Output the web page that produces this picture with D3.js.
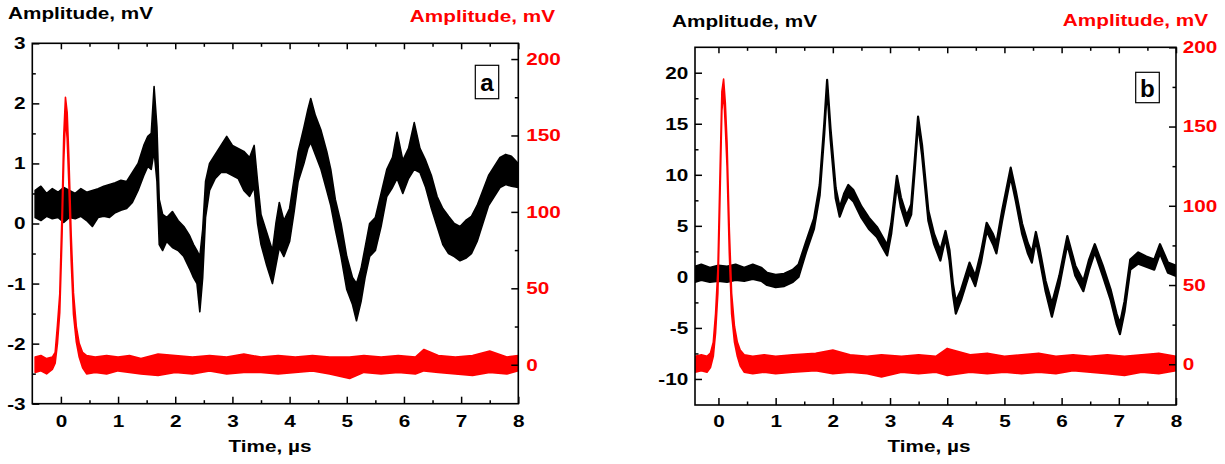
<!DOCTYPE html>
<html>
<head>
<meta charset="utf-8">
<script src="https://cdn.jsdelivr.net/npm/d3@7"></script>
<style>
  body { margin: 0; background: #fff; }
  svg { display: block; font-family: "Liberation Sans", Arial, sans-serif; font-weight: bold; }
</style>
</head>
<body>
<script>
/*
 * Two oscilloscope traces (a, b): black signal on the left axis,
 * red excitation pulse on the right axis. Traces are noisy, so each
 * one is kept as a low / high envelope.
 */

// ---- panel a, black trace (mV, left axis)
var aBlackT  = [-0.45,-0.35,-0.25,-0.15,-0.05,0.05,0.15,0.25,0.35,0.45,0.55,0.65,0.75,0.85,0.95,1.05,1.15,1.25,1.35,1.45,1.52,1.58,1.63,1.68,1.72,1.78,1.85,1.95,2.05,2.15,2.25,2.32,2.38,2.43,2.48,2.53,2.6,2.7,2.8,2.9,3.0,3.1,3.2,3.3,3.38,3.44,3.5,3.6,3.7,3.76,3.82,3.9,4.0,4.08,4.15,4.25,4.32,4.37,4.45,4.55,4.65,4.72,4.8,4.9,5.0,5.1,5.17,5.25,5.32,5.4,5.5,5.6,5.7,5.8,5.88,5.98,6.08,6.18,6.28,6.38,6.48,6.58,6.68,6.78,6.88,6.98,7.08,7.18,7.28,7.38,7.48,7.58,7.68,7.78,7.88,8.0];
var aBlackLo = [0.10,0.05,0.12,0.08,0.10,0.02,0.10,0.08,0.12,0.05,-0.05,0.10,0.12,0.10,0.18,0.22,0.25,0.35,0.55,0.80,0.95,0.90,1.20,0.70,-0.35,-0.45,-0.30,-0.40,-0.45,-0.55,-0.75,-0.90,-1.00,-1.47,-0.90,0.10,0.55,0.75,0.85,0.85,0.80,0.75,0.55,0.45,0.60,0.00,-0.35,-0.70,-1.00,-0.70,-0.40,-0.55,-0.30,0.20,0.70,1.00,1.25,1.35,1.15,0.90,0.55,0.30,-0.10,-0.55,-1.10,-1.35,-1.62,-1.30,-0.90,-0.55,-0.45,-0.05,0.45,0.60,0.75,0.50,0.75,0.90,0.85,0.60,0.25,-0.05,-0.35,-0.50,-0.55,-0.62,-0.58,-0.50,-0.30,0.00,0.30,0.45,0.60,0.65,0.62,0.60];
var aBlackHi = [0.55,0.62,0.50,0.58,0.52,0.60,0.55,0.50,0.58,0.52,0.55,0.58,0.62,0.65,0.68,0.72,0.70,0.85,1.00,1.30,1.45,1.50,2.28,1.60,0.40,0.15,0.10,0.20,0.05,-0.05,-0.20,-0.35,-0.45,-0.55,-0.10,0.70,1.00,1.15,1.30,1.45,1.30,1.25,1.20,1.10,1.30,0.70,0.15,-0.15,-0.45,0.00,0.35,0.05,0.25,0.75,1.20,1.60,1.90,2.08,1.80,1.55,1.20,0.90,0.40,0.00,-0.55,-0.90,-1.00,-0.75,-0.40,0.00,0.10,0.50,0.90,1.10,1.52,1.05,1.25,1.68,1.25,1.05,0.80,0.45,0.25,0.12,0.00,-0.05,0.05,0.12,0.30,0.55,0.80,0.95,1.10,1.15,1.12,1.00];

// ---- panel a, red trace (mV, right axis)
var aRedT  = [-0.45,-0.35,-0.25,-0.15,-0.1,-0.06,-0.02,0.02,0.05,0.08,0.11,0.14,0.18,0.22,0.27,0.32,0.38,0.45,0.6,0.8,1.0,1.2,1.4,1.7,2.0,2.3,2.6,2.9,3.2,3.5,3.8,4.1,4.4,4.7,5.05,5.3,5.6,5.9,6.2,6.35,6.6,6.9,7.2,7.5,7.8,8.0];
var aRedLo = [-5,-4,-6,-3,1,14,34,84,133,162,148,118,68,33,15,5,-2,-6,-5,-6,-4,-5,-6,-7,-5,-6,-4,-6,-5,-5,-6,-5,-4,-6,-9,-5,-6,-5,-6,-4,-5,-6,-7,-5,-6,-4];
var aRedHi = [5,6,4,5,8,26,46,100,150,175,165,135,85,47,25,14,8,6,5,6,5,6,4,7,6,5,6,5,7,5,6,5,6,5,5,6,5,6,5,10,6,5,6,9,5,6];

// ---- panel b, black trace
var bBlackT  = [-0.41,-0.3,-0.15,0.0,0.15,0.3,0.45,0.6,0.75,0.85,1.0,1.15,1.3,1.4,1.53,1.67,1.77,1.85,1.9,1.96,2.05,2.12,2.2,2.27,2.36,2.5,2.63,2.77,2.9,2.95,3.02,3.12,3.19,3.29,3.37,3.43,3.49,3.56,3.67,3.77,3.88,3.97,4.04,4.1,4.15,4.24,4.39,4.49,4.59,4.69,4.8,4.86,4.96,5.11,5.2,5.31,5.41,5.48,5.55,5.62,5.72,5.83,5.96,6.1,6.24,6.38,6.48,6.58,6.72,6.86,6.96,7.02,7.1,7.2,7.34,7.48,7.62,7.72,7.86,8.0];
var bBlackLo = [-0.5,-0.3,-0.5,-0.4,-0.5,-0.3,-0.4,-0.2,-0.4,-0.8,-1.0,-0.9,-0.5,0.0,2.4,4.7,8.0,14.0,18.6,13.5,7.7,5.9,7.1,7.9,7.4,5.8,4.7,3.9,2.6,2.1,4.2,9.0,6.8,5.0,6.1,10.3,15.0,11.9,5.5,3.2,1.6,3.8,1.6,-1.7,-3.6,-2.3,0.4,-0.9,1.4,4.5,3.2,2.3,5.5,9.8,7.4,4.2,2.3,1.4,3.6,1.6,-1.4,-3.9,-0.9,3.2,0.1,-1.4,0.7,2.4,0.1,-2.3,-4.6,-5.6,-3.4,0.7,1.3,1.0,0.7,2.3,0.4,0.1];
var bBlackHi = [1.0,1.2,0.9,1.1,1.0,1.2,0.9,1.2,0.9,0.4,0.2,0.3,0.7,1.2,3.4,5.7,9.0,15.0,19.3,14.5,8.7,6.8,8.2,9.0,8.5,6.9,5.8,4.9,3.6,3.1,5.2,9.9,7.8,6.0,7.1,11.3,15.7,12.9,6.5,4.2,2.6,4.5,2.6,-0.7,-2.4,-1.3,1.4,0.1,2.4,5.3,4.2,3.3,6.5,10.7,8.4,5.2,3.3,2.4,4.4,2.6,-0.4,-2.6,0.1,4.0,1.1,-0.4,1.7,3.2,1.1,-1.3,-3.6,-4.6,-2.4,1.7,2.4,2.0,1.7,3.2,1.4,1.1];

// ---- panel b, red trace
var bRedT  = [-0.41,-0.3,-0.2,-0.14,-0.09,-0.05,-0.01,0.03,0.06,0.09,0.12,0.15,0.19,0.23,0.28,0.33,0.38,0.45,0.6,0.8,1.0,1.3,1.7,2.0,2.3,2.6,2.85,3.2,3.5,3.8,4.0,4.4,4.7,5.0,5.3,5.6,5.9,6.2,6.5,6.8,7.1,7.4,7.7,8.0];
var bRedLo = [-5,-4,-5,-2,5,20,45,110,160,172,150,125,70,32,14,5,-1,-5,-6,-5,-6,-5,-4,-6,-5,-6,-8,-5,-6,-5,-7,-5,-6,-5,-6,-5,-6,-4,-5,-6,-7,-5,-6,-4];
var bRedHi = [5,6,5,7,14,32,60,125,172,180,165,140,85,45,24,14,9,6,5,6,5,6,7,9,6,5,6,5,6,5,10,6,7,5,6,7,5,6,5,6,5,6,7,5];

// ---- tick values
var timeTicks   = [0, 1, 2, 3, 4, 5, 6, 7, 8];
var timeMinor   = [0.5, 1.5, 2.5, 3.5, 4.5, 5.5, 6.5, 7.5];
var aLeftTicks  = [-3, -2, -1, 0, 1, 2, 3];
var aLeftMinor  = [-2.5, -1.5, -0.5, 0.5, 1.5, 2.5];
var bLeftTicks  = [-10, -5, 0, 5, 10, 15, 20];
var bLeftMinor  = [-7.5, -2.5, 2.5, 7.5, 12.5, 17.5];
var rightTicks  = [0, 50, 100, 150, 200];
var rightMinor  = [25, 75, 125, 175];

var W = 1225, H = 464;
var SX = 1.22;   // the picture's text is stretched a little sideways
var FS = 17;
var RED = "#ff0000";

var svg = d3.select("body").append("svg")
    .attr("width", W)
    .attr("height", H);

function zip(t, lo, hi) {
  return t.map(function(d, i) { return {t: d, lo: lo[i], hi: hi[i]}; });
}

// plain hyphen minus, no decimals
function fmt(d) { return d < 0 ? "-" + Math.abs(d) : String(d); }

function label(x, y, s, anchor, color, size, sx) {
  svg.append("g")
      .attr("transform", "translate(" + x + "," + y + ") scale(" + (sx || SX) + ",1)")
    .append("text")
      .attr("text-anchor", anchor)
      .attr("fill", color)
      .style("font-size", size + "px")
      .text(s);
}

function styleAxis(g, color) {
  g.select(".domain").remove();
  g.selectAll(".tick line").attr("stroke", "#000").attr("stroke-width", 1.5);
  g.selectAll(".tick text")
      .attr("fill", color)
      .attr("transform", "scale(" + SX + ",1)")
      .style("font-size", FS + "px")
      .style("font-family", "\"Liberation Sans\", Arial, sans-serif")
      .style("font-weight", "bold");
}

function drawPanel(p) {
  var x  = d3.scaleLinear().domain(p.xDomain).range([p.left, p.right]);
  var yL = d3.scaleLinear().domain(p.yLDomain).range([p.bottom, p.top]);
  var yR = d3.scaleLinear().domain(p.yRDomain).range([p.bottom, p.top]);

  svg.append("clipPath").attr("id", "clip-" + p.name)
    .append("rect")
      .attr("x", p.left).attr("y", p.top)
      .attr("width", p.right - p.left).attr("height", p.bottom - p.top);

  var plot = svg.append("g").attr("clip-path", "url(#clip-" + p.name + ")");

  function band(y) {
    return d3.area()
        .x(function(d) { return x(d.t); })
        .y0(function(d) { return y(d.lo); })
        .y1(function(d) { return y(d.hi); });
  }

  // black signal first, red pulse on top
  plot.append("path")
      .datum(p.black)
      .attr("d", band(yL))
      .attr("fill", "#000")
      .attr("stroke", "#000")
      .attr("stroke-linejoin", "round")
      .attr("stroke-width", p.blackWidth);

  plot.append("path")
      .datum(p.red)
      .attr("d", band(yR))
      .attr("fill", RED)
      .attr("stroke", RED)
      .attr("stroke-linejoin", "round")
      .attr("stroke-width", 1.6);

  // frame
  svg.append("rect")
      .attr("x", p.left).attr("y", p.top)
      .attr("width", p.right - p.left).attr("height", p.bottom - p.top)
      .attr("fill", "none")
      .attr("stroke", "#000")
      .attr("stroke-width", 1.6);

  // bottom axis, major + minor ticks pointing in
  svg.append("g")
      .attr("transform", "translate(0," + p.bottom + ")")
      .call(d3.axisBottom(x).tickValues(timeTicks).tickFormat(fmt).tickSizeInner(-7).tickSizeOuter(0).tickPadding(p.xPad))
      .call(styleAxis, "#000");
  svg.append("g")
      .attr("transform", "translate(0," + p.bottom + ")")
      .call(d3.axisBottom(x).tickValues(timeMinor).tickSizeInner(-3.5).tickSizeOuter(0).tickFormat(""))
      .call(styleAxis, "#000");

  // top axis, ticks only
  svg.append("g")
      .attr("transform", "translate(0," + p.top + ")")
      .call(d3.axisTop(x).tickValues(timeTicks).tickSizeInner(-6).tickSizeOuter(0).tickFormat(""))
      .call(styleAxis, "#000");
  svg.append("g")
      .attr("transform", "translate(0," + p.top + ")")
      .call(d3.axisTop(x).tickValues(timeMinor).tickSizeInner(-3.5).tickSizeOuter(0).tickFormat(""))
      .call(styleAxis, "#000");

  // left axis (black signal)
  svg.append("g")
      .attr("transform", "translate(" + p.left + ",0)")
      .call(d3.axisLeft(yL).tickValues(p.leftTicks).tickFormat(fmt).tickSizeInner(-7).tickSizeOuter(0).tickPadding(5.5))
      .call(styleAxis, "#000");
  svg.append("g")
      .attr("transform", "translate(" + p.left + ",0)")
      .call(d3.axisLeft(yL).tickValues(p.leftMinor).tickSizeInner(-3.5).tickSizeOuter(0).tickFormat(""))
      .call(styleAxis, "#000");

  // right axis (red pulse)
  svg.append("g")
      .attr("transform", "translate(" + p.right + ",0)")
      .call(d3.axisRight(yR).tickValues(rightTicks).tickFormat(fmt).tickSizeInner(-7).tickSizeOuter(0).tickPadding(p.rPad))
      .call(styleAxis, RED);
  svg.append("g")
      .attr("transform", "translate(" + p.right + ",0)")
      .call(d3.axisRight(yR).tickValues(rightMinor).tickSizeInner(-3.5).tickSizeOuter(0).tickFormat(""))
      .call(styleAxis, RED);

  // panel letter in a box
  svg.append("rect")
      .attr("x", p.box[0]).attr("y", p.box[1])
      .attr("width", p.box[2]).attr("height", p.box[3])
      .attr("fill", "#fff")
      .attr("stroke", "#000")
      .attr("stroke-width", 1.2);
  label(p.box[0] + p.box[2] / 2, p.letterY, p.name, "middle", "#000", 23, 1.05);

  // axis titles
  label(p.blackTitle[0], p.blackTitle[1], "Amplitude, mV", "start", "#000", FS);
  label(p.redTitle[0], p.redTitle[1], "Amplitude, mV", "end", RED, FS);
  label(p.timeTitle[0], p.timeTitle[1], "Time, \u00b5s", "middle", "#000", FS);
}

drawPanel({
  name: "a",
  left: 32.3, right: 518.3, top: 43.3, bottom: 403.7,
  xDomain: [-0.5, 8], yLDomain: [-3, 3], yRDomain: [-25.5, 210.3],
  leftTicks: aLeftTicks, leftMinor: aLeftMinor,
  xPad: 10.8, rPad: 6.5, blackWidth: 1.6,
  black: zip(aBlackT, aBlackLo, aBlackHi),
  red: zip(aRedT, aRedLo, aRedHi),
  box: [475.3, 65.3, 23.4, 33.4], letterY: 91,
  blackTitle: [8, 19], redTitle: [555, 21.5], timeTitle: [270, 452]
});

drawPanel({
  name: "b",
  left: 695, right: 1176, top: 47.3, bottom: 405,
  xDomain: [-0.41, 8], yLDomain: [-12.55, 22.49], yRDomain: [-25.7, 200],
  leftTicks: bLeftTicks, leftMinor: bLeftMinor,
  xPad: 9.5, rPad: 5.5, blackWidth: 2.2,
  black: zip(bBlackT, bBlackLo, bBlackHi),
  red: zip(bRedT, bRedLo, bRedHi),
  box: [1135.7, 72.3, 23.6, 30.4], letterY: 96.7,
  blackTitle: [672, 27], redTitle: [1208, 26], timeTitle: [929, 452]
});
</script>
</body>
</html>
